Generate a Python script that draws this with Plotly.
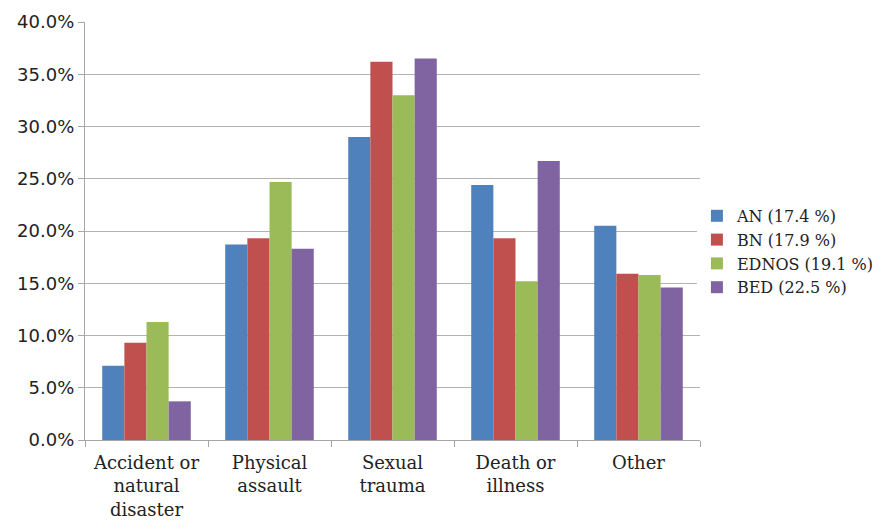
import plotly.graph_objects as go

categories = ["Accident or<br>natural<br>disaster", "Physical<br>assault", "Sexual<br>trauma",
              "Death or<br>illness", "Other"]
series_names = ["AN (17.4 %)", "BN (17.9 %)", "EDNOS (19.1 %)", "BED (22.5 %)"]
an_values = [7.1, 18.7, 29.0, 24.4, 20.5]
bn_values = [9.3, 19.3, 36.2, 19.3, 15.9]
ednos_values = [11.3, 24.7, 33.0, 15.2, 15.8]
bed_values = [3.7, 18.3, 36.5, 26.7, 14.6]
colors = ["#4F81BD", "#C0504D", "#9BBB59", "#8064A2"]
y_ticks = [0, 5, 10, 15, 20, 25, 30, 35, 40]
y_tick_labels = [f"{v:.1f}%" for v in y_ticks]

fig = go.Figure()
for name, vals, col in zip(series_names, [an_values, bn_values, ednos_values, bed_values], colors):
    fig.add_trace(go.Bar(x=categories, y=vals, name=name, marker_color=col, marker_line_width=0))

serif = "DejaVu Serif"
sans = "DejaVu Sans"
fig.update_layout(
    barmode="group",
    bargap=0.28,
    bargroupgap=0,
    width=890, height=521,
    margin=dict(l=85, r=190, t=22, b=81, autoexpand=False),
    plot_bgcolor="white", paper_bgcolor="white",
    font=dict(family=serif, size=17, color="#222222"),
    legend=dict(x=0.995, y=0.45, xanchor="left", yanchor="middle",
                font=dict(family=serif, size=16), itemwidth=30, tracegroupgap=0),
    showlegend=True,
)
fig.update_yaxes(range=[0, 40], tickvals=y_ticks, ticktext=y_tick_labels,
                 showgrid=True, gridcolor="#b3b3b3", gridwidth=1.2,
                 showline=True, linecolor="#a6a6a6", linewidth=1.2,
                 ticks="outside", ticklen=6, tickcolor="#a6a6a6",
                 tickfont=dict(family=sans, size=18), zeroline=False)
fig.update_xaxes(showline=True, linecolor="#a6a6a6", linewidth=1.2,
                 ticks="outside", tickson="boundaries", ticklen=6, tickcolor="#a6a6a6",
                 ticklabelstandoff=6, tickfont=dict(family=serif, size=18))

fig.write_html("out.html")
